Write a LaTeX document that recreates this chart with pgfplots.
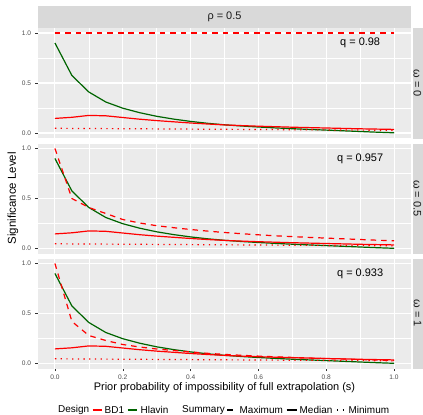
\documentclass[border=0pt]{standalone}
\usepackage{fontspec}
\setmainfont{Liberation Sans}
\usepackage{pgfplots}
\usepackage{pgfplotstable}
\pgfplotsset{compat=1.18}

\definecolor{panelbg}{HTML}{EBEBEB}
\definecolor{stripbg}{HTML}{D9D9D9}
\definecolor{striptxt}{HTML}{1A1A1A}
\definecolor{tickgray}{HTML}{333333}
\definecolor{labgray}{HTML}{4D4D4D}
\definecolor{bdred}{HTML}{FF0000}
\definecolor{hlgreen}{HTML}{006400}

% significance level vs prior probability s
\pgfplotstableread{
s     bdmed  bdmin  hl     max0  max05  max1
0.00  0.146  0.047  0.900  1.0   1.000  1.000
0.05  0.157  0.046  0.575  1.0   0.500  0.420
0.10  0.176  0.045  0.410  1.0   0.410  0.280
0.15  0.172  0.044  0.310  1.0   0.350  0.230
0.20  0.155  0.043  0.248  1.0   0.290  0.190
0.25  0.138  0.042  0.203  1.0   0.255  0.165
0.30  0.124  0.041  0.167  1.0   0.228  0.145
0.35  0.112  0.040  0.139  1.0   0.208  0.130
0.40  0.100  0.039  0.116  1.0   0.190  0.115
0.45  0.090  0.038  0.097  1.0   0.174  0.102
0.50  0.081  0.037  0.082  1.0   0.160  0.091
0.55  0.074  0.036  0.070  1.0   0.148  0.082
0.60  0.068  0.035  0.060  1.0   0.137  0.074
0.65  0.063  0.034  0.051  1.0   0.127  0.067
0.70  0.058  0.033  0.043  1.0   0.119  0.061
0.75  0.054  0.032  0.036  1.0   0.111  0.055
0.80  0.050  0.031  0.029  1.0   0.104  0.050
0.85  0.046  0.030  0.022  1.0   0.097  0.045
0.90  0.042  0.029  0.015  1.0   0.090  0.040
0.95  0.039  0.028  0.008  1.0   0.083  0.035
1.00  0.036  0.027  0.002  1.0   0.077  0.030
}\sig

\pgfplotsset{
  panel/.style={
    width=373bp, height=110bp, scale only axis,
    anchor=north west,
    xmin=-0.05, xmax=1.05, ymin=-0.05, ymax=1.05,
    axis background/.style={fill=panelbg},
    axis line style={draw=none},
    xtick={0,0.2,0.4,0.6,0.8,1}, minor xtick={0.1,0.3,0.5,0.7,0.9},
    ytick={0,0.5,1}, minor ytick={0.25,0.75},
    grid=both,
    major grid style={white, line width=1.07bp},
    minor grid style={white, line width=0.53bp},
    tick pos=left, tick align=outside,
    major tick length=2.7bp, minor tick length=0pt,
    tick style={tickgray, line width=0.5bp},
    /pgf/number format/assume math mode=true,
    /pgf/number format/fixed,
    /pgf/number format/fixed zerofill,
    /pgf/number format/precision=1,
    ticklabel style={font=\fontsize{6.6}{7}\selectfont, text=labgray, inner sep=1bp},
    yticklabel style={xshift=-3bp},
    xticklabel style={yshift=-2.5bp},
  },
  maxline/.style={bdred, line width=1.2bp, dash pattern=on 5.5bp off 5bp},
  medline/.style={line width=1.2bp},
  minline/.style={bdred, line width=1.2bp, dash pattern=on 1.3bp off 4.4bp},
}
\tikzset{qlab/.style={font=\fontsize{11}{12}\selectfont, text=black}}

\begin{document}
\begin{tikzpicture}[x=1bp,y=1bp]
\useasboundingbox (0,0) rectangle (423,-415);
\clip (0,0) rectangle (423,-415);

% facet strips
\fill[stripbg] (38,-6) rectangle (411,-28);
\node[font=\fontsize{11}{12}\selectfont, text=striptxt] at (224.5,-17) {ρ = 0.5};
\fill[stripbg] (412.5,-28) rectangle (440,-138.5);
\fill[stripbg] (412.5,-143.5) rectangle (440,-253.5);
\fill[stripbg] (412.5,-258.5) rectangle (440,-368.5);
\node[font=\fontsize{11}{12}\selectfont, text=striptxt, rotate=-90] at (417.5,-83.25) {ω = 0};
\node[font=\fontsize{11}{12}\selectfont, text=striptxt, rotate=-90] at (417.5,-198.5) {ω = 0.5};
\node[font=\fontsize{11}{12}\selectfont, text=striptxt, rotate=-90] at (417.5,-313.5) {ω = 1};

\begin{axis}[panel, at={(38bp,-28bp)}, xticklabels={}, xtick style={draw=none}]
\addplot[hlgreen, medline] table[x=s, y=hl]{\sig};
\addplot[bdred, medline] table[x=s, y=bdmed]{\sig};
\addplot[minline] table[x=s, y=bdmin]{\sig};
\addplot[maxline] table[x=s, y=max0]{\sig};
\node[qlab] at (axis cs:0.9,0.9) {q = 0.98};
\end{axis}

\begin{axis}[panel, at={(38bp,-143.5bp)}, xticklabels={}, xtick style={draw=none}]
\addplot[hlgreen, medline] table[x=s, y=hl]{\sig};
\addplot[bdred, medline] table[x=s, y=bdmed]{\sig};
\addplot[minline] table[x=s, y=bdmin]{\sig};
\addplot[maxline] table[x=s, y=max05]{\sig};
\node[qlab] at (axis cs:0.9,0.9) {q = 0.957};
\end{axis}

\begin{axis}[panel, at={(38bp,-258.5bp)}]
\addplot[hlgreen, medline] table[x=s, y=hl]{\sig};
\addplot[bdred, medline] table[x=s, y=bdmed]{\sig};
\addplot[minline] table[x=s, y=bdmin]{\sig};
\addplot[maxline] table[x=s, y=max1]{\sig};
\node[qlab] at (axis cs:0.9,0.9) {q = 0.933};
\end{axis}

% axis titles
\node[font=\fontsize{11}{12}\selectfont] at (224.5,-388) {Prior probability of impossibility of full extrapolation (s)};
\node[font=\fontsize{11.5}{12}\selectfont, rotate=90] at (13,-198.25) {Significance Level};

% legend
\begin{scope}[font=\fontsize{10}{11}\selectfont]
\node[anchor=west, inner sep=0] at (58,-410) {Design};
\draw[bdred, line width=1.2bp] (92.5,-410) -- (101.5,-410);
\node[anchor=west, inner sep=0] at (104.5,-410) {BD1};
\draw[hlgreen, line width=1.2bp] (127.5,-410) -- (136.5,-410);
\node[anchor=west, inner sep=0] at (140.5,-410) {Hlavin};
\node[anchor=west, inner sep=0] at (182,-410) {Summary};
\draw[black, line width=1.2bp] (227,-410) -- (232.5,-410);
\node[anchor=west, inner sep=0] at (239.5,-410) {Maximum};
\draw[black, line width=1.2bp] (286.5,-410) -- (296.5,-410);
\node[anchor=west, inner sep=0] at (299.5,-410) {Median};
\draw[black, line width=1.2bp, dash pattern=on 1.3bp off 4.4bp] (337,-410) -- (346,-410);
\node[anchor=west, inner sep=0] at (348.5,-410) {Minimum};
\end{scope}
\end{tikzpicture}
\end{document}
